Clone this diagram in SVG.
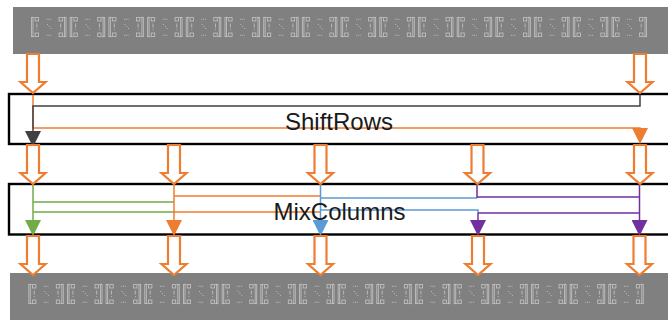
<svg xmlns="http://www.w3.org/2000/svg" xmlns:xlink="http://www.w3.org/1999/xlink" width="668" height="320" viewBox="0 0 668 320">
  <style>
    .bar { fill: #808080; }
    .stage { fill: #ffffff; stroke: #000000; stroke-width: 2.4; }
    .label { font-family: "Liberation Sans", Arial, sans-serif; font-size: 24px; fill: #1a1a1a; text-anchor: middle; }
    .blk { fill: #ffffff; stroke: #ED7D31; stroke-width: 2.2; stroke-linejoin: miter; }
    .wire { fill: none; stroke-width: 1.5; }
    .w-grey { stroke: #404040; }
    .w-orange { stroke: #ED7D31; }
    .w-green { stroke: #70AD47; }
    .w-blue { stroke: #5B9BD5; }
    .w-purple { stroke: #7030A0; }
    .m-line { fill: none; stroke: #c6c6c6; stroke-width: 0.8; }
    .m-dot { fill: #c6c6c6; }
  </style>
  <defs>
    <!-- small matrix glyph: [ □ ⋯ □ ; ! ⋱ ! ; □ ⋯ □ ] -->
    <g id="mat">
      <path class="m-line" d="M0.5,0 V20 M2,0 V20 M0.5,0.4 H3.5 M0.5,19.6 H3.5 M33.5,0 V20 M35,0 V20 M32,0.4 H35 M32,19.6 H35"/>
      <rect class="m-line" x="4.2" y="0.6" width="3.4" height="3.4"/>
      <rect class="m-line" x="28" y="0.6" width="3.4" height="3.4"/>
      <rect class="m-line" x="4.2" y="16" width="3.4" height="3.4"/>
      <rect class="m-line" x="28" y="16" width="3.4" height="3.4"/>
      <path class="m-line" d="M5.9,6.5 V10.5 M29.7,6.5 V10.5"/>
      <rect class="m-dot" x="5.5" y="12.2" width="0.9" height="0.9"/>
      <rect class="m-dot" x="29.3" y="12.2" width="0.9" height="0.9"/>
      <rect class="m-dot" x="15.6" y="1.8" width="0.9" height="0.9"/>
      <rect class="m-dot" x="17.4" y="1.8" width="0.9" height="0.9"/>
      <rect class="m-dot" x="19.2" y="1.8" width="0.9" height="0.9"/>
      <rect class="m-dot" x="15.6" y="17.8" width="0.9" height="0.9"/>
      <rect class="m-dot" x="17.4" y="17.8" width="0.9" height="0.9"/>
      <rect class="m-dot" x="19.2" y="17.8" width="0.9" height="0.9"/>
      <rect class="m-dot" x="16" y="7" width="0.9" height="0.9"/>
      <rect class="m-dot" x="17.8" y="9" width="0.9" height="0.9"/>
      <rect class="m-dot" x="19.6" y="11" width="0.9" height="0.9"/>
    </g>
    <!-- hollow block arrow, origin at the middle of its top edge -->
    <path id="blkarrow" class="blk" d="M-6,0 H6 V28 H12.5 L0,39 L-12.5,28 H-6 Z"/>
    <marker id="tri-grey" markerUnits="userSpaceOnUse" viewBox="0 0 16 16" refX="12" refY="8" markerWidth="16" markerHeight="16" orient="auto"><path d="M0,0 L16,8 L0,16 Z" fill="#404040"/></marker>
    <marker id="tri-orange" markerUnits="userSpaceOnUse" viewBox="0 0 16 16" refX="12" refY="8" markerWidth="16" markerHeight="16" orient="auto"><path d="M0,0 L16,8 L0,16 Z" fill="#ED7D31"/></marker>
    <marker id="tri-green" markerUnits="userSpaceOnUse" viewBox="0 0 16 16" refX="12" refY="8" markerWidth="16" markerHeight="16" orient="auto"><path d="M0,0 L16,8 L0,16 Z" fill="#70AD47"/></marker>
    <marker id="tri-blue" markerUnits="userSpaceOnUse" viewBox="0 0 16 16" refX="12" refY="8" markerWidth="16" markerHeight="16" orient="auto"><path d="M0,0 L16,8 L0,16 Z" fill="#5B9BD5"/></marker>
    <marker id="tri-purple" markerUnits="userSpaceOnUse" viewBox="0 0 16 16" refX="12" refY="8" markerWidth="16" markerHeight="16" orient="auto"><path d="M0,0 L16,8 L0,16 Z" fill="#7030A0"/></marker>
  </defs>

  <!-- input state -->
  <g id="state-in">
    <rect class="bar" x="13" y="7" width="660" height="47"/>
    <use xlink:href="#mat" x="31" y="17"/>
    <use xlink:href="#mat" x="69.7" y="17"/>
    <use xlink:href="#mat" x="108.4" y="17"/>
    <use xlink:href="#mat" x="147.1" y="17"/>
    <use xlink:href="#mat" x="185.8" y="17"/>
    <use xlink:href="#mat" x="224.5" y="17"/>
    <use xlink:href="#mat" x="263.2" y="17"/>
    <use xlink:href="#mat" x="301.9" y="17"/>
    <use xlink:href="#mat" x="340.6" y="17"/>
    <use xlink:href="#mat" x="379.3" y="17"/>
    <use xlink:href="#mat" x="418" y="17"/>
    <use xlink:href="#mat" x="456.7" y="17"/>
    <use xlink:href="#mat" x="495.4" y="17"/>
    <use xlink:href="#mat" x="534.1" y="17"/>
    <use xlink:href="#mat" x="572.8" y="17"/>
    <use xlink:href="#mat" x="611.5" y="17"/>
  </g>

  <!-- ShiftRows stage -->
  <g id="shiftrows">
    <rect class="stage" x="9" y="94" width="670" height="50"/>
  </g>

  <!-- MixColumns stage -->
  <g id="mixcolumns">
    <rect class="stage" x="9" y="184" width="670" height="50.5"/>
  </g>

  <!-- output state -->
  <g id="state-out">
    <rect class="bar" x="10" y="273" width="665" height="50"/>
    <use xlink:href="#mat" x="28.3" y="284"/>
    <use xlink:href="#mat" x="67" y="284"/>
    <use xlink:href="#mat" x="105.6" y="284"/>
    <use xlink:href="#mat" x="144.3" y="284"/>
    <use xlink:href="#mat" x="183" y="284"/>
    <use xlink:href="#mat" x="221.7" y="284"/>
    <use xlink:href="#mat" x="260.3" y="284"/>
    <use xlink:href="#mat" x="299" y="284"/>
    <use xlink:href="#mat" x="337.7" y="284"/>
    <use xlink:href="#mat" x="376.3" y="284"/>
    <use xlink:href="#mat" x="415" y="284"/>
    <use xlink:href="#mat" x="453.7" y="284"/>
    <use xlink:href="#mat" x="492.3" y="284"/>
    <use xlink:href="#mat" x="531" y="284"/>
    <use xlink:href="#mat" x="569.7" y="284"/>
    <use xlink:href="#mat" x="608.3" y="284"/>
  </g>

  <g id="connectors">
    <!-- ShiftRows wiring -->
    <path class="wire w-orange" d="M33,95 V128 H640 V140" marker-end="url(#tri-orange)"/>
    <path class="wire w-grey" d="M640,95 V106 H33 V143" marker-end="url(#tri-grey)"/>

    <!-- MixColumns wiring -->
    <path class="wire w-green" d="M33,185 V232" marker-end="url(#tri-green)"/>
    <path class="wire w-green" d="M33,202 H174 M33,212 H174"/>
    <path class="wire w-orange" d="M174,185 V232" marker-end="url(#tri-orange)"/>
    <path class="wire w-orange" d="M174,196 H320.5 M174,212 H320.5"/>
    <path class="wire w-blue" d="M320.5,185 V232" marker-end="url(#tri-blue)"/>
    <path class="wire w-blue" d="M320.5,198 H477 M320.5,210 H478 V213"/>
    <path class="wire w-purple" d="M477,185 V198 M477,197 H639.5 M478,213 H639.5"/>
    <path class="wire w-purple" d="M478,213 V232" marker-end="url(#tri-purple)"/>
    <path class="wire w-purple" d="M639.5,185 V232" marker-end="url(#tri-purple)"/>

    <!-- state flow arrows -->
    <use xlink:href="#blkarrow" x="33" y="54"/>
    <use xlink:href="#blkarrow" x="640" y="54"/>
    <use xlink:href="#blkarrow" x="33" y="145"/>
    <use xlink:href="#blkarrow" x="174" y="145"/>
    <use xlink:href="#blkarrow" x="320.5" y="145"/>
    <use xlink:href="#blkarrow" x="477.5" y="145"/>
    <use xlink:href="#blkarrow" x="640" y="145"/>
    <use xlink:href="#blkarrow" x="33" y="236"/>
    <use xlink:href="#blkarrow" x="174" y="236"/>
    <use xlink:href="#blkarrow" x="320.5" y="236"/>
    <use xlink:href="#blkarrow" x="478" y="236"/>
    <use xlink:href="#blkarrow" x="639.5" y="236"/>
  </g>

  <text class="label" x="339" y="130">ShiftRows</text>
  <text class="label" x="339.5" y="220">MixColumns</text>
</svg>
